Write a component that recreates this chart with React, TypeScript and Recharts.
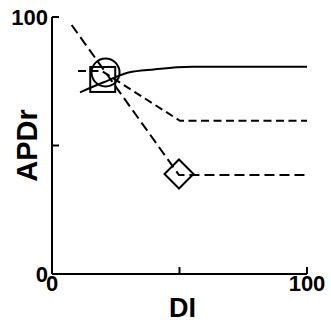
import React from 'react';
import { ComposedChart, Line, Scatter, XAxis, YAxis } from 'recharts';

// series (DI vs APDr)
const solidDI = [11, 20, 30, 40, 55, 100];
const solidAPDr = [70.7, 74.5, 78.4, 79.6, 80.6, 80.6];

const steepDI = [7.7, 49.8, 100];
const steepAPDr = [96.9, 38.5, 38.5];

const midDI = [10.2, 19.5, 50.2, 100];
const midAPDr = [79, 79, 59.6, 59.6];

const markerDI = [21, 19.9, 49.8];
const markerAPDr = [78.4, 75.7, 38.9];

const axisTicks = [0, 50, 100];
const labeledTicks = [0, 100];

const toPoints = (xs: number[], ys: number[]) => xs.map((x, i) => ({ x, y: ys[i] }));

const solidData = toPoints(solidDI, solidAPDr);
const steepData = toPoints(steepDI, steepAPDr);
const midData = toPoints(midDI, midAPDr);
const circleData = [{ x: markerDI[0], y: markerAPDr[0] }];
const squareData = [{ x: markerDI[1], y: markerAPDr[1] }];
const diamondData = [{ x: markerDI[2], y: markerAPDr[2] }];

const FONT = '"Liberation Sans", Arial, Helvetica, sans-serif';
const TICK_LEN = 7;

const BottomTick = ({ x, y, payload }: any) => (
  <g>
    <line x1={x} y1={y} x2={x} y2={y - TICK_LEN} stroke="#000" strokeWidth={2} />
    {labeledTicks.includes(payload.value) && (
      <text x={x} y={y + 17} textAnchor="middle" fontFamily={FONT} fontWeight="bold" fontSize={22} fill="#000">
        {payload.value}
      </text>
    )}
  </g>
);

const LeftTick = ({ x, y, payload }: any) => (
  <g>
    <line x1={x} y1={y} x2={x + TICK_LEN} y2={y} stroke="#000" strokeWidth={2} />
    {labeledTicks.includes(payload.value) && (
      <text x={x - 4} y={y + 8} textAnchor="end" fontFamily={FONT} fontWeight="bold" fontSize={22} fill="#000">
        {payload.value}
      </text>
    )}
  </g>
);

const TopTick = ({ x, y, payload }: any) =>
  payload.value === 50 ? <line x1={x} y1={y} x2={x} y2={y + TICK_LEN} stroke="#000" strokeWidth={2} /> : <g />;

const RightTick = ({ x, y, payload }: any) =>
  payload.value === 50 ? <line x1={x} y1={y} x2={x - TICK_LEN} y2={y} stroke="#000" strokeWidth={2} /> : <g />;

const CircleMark = ({ cx, cy }: any) => <circle cx={cx} cy={cy} r={14} fill="none" stroke="#000" strokeWidth={2} />;
const SquareMark = ({ cx, cy }: any) => (
  <rect x={cx - 12.5} y={cy - 12.5} width={25} height={25} fill="none" stroke="#000" strokeWidth={2} />
);
const DiamondMark = ({ cx, cy }: any) => (
  <polygon
    points={`${cx},${cy - 14.5} ${cx + 14.5},${cy} ${cx},${cy + 14.5} ${cx - 14.5},${cy}`}
    fill="none"
    stroke="#000"
    strokeWidth={2}
  />
);

const YLabel = ({ viewBox }: any) => {
  const cx = viewBox.x + 37;
  const cy = viewBox.y + viewBox.height / 2;
  return (
    <text x={cx} y={cy} transform={`rotate(-90, ${cx}, ${cy})`} textAnchor="middle" fontFamily={FONT} fontWeight="bold" fontSize={29} fill="#000">
      APDr
    </text>
  );
};

export default function App() {
  return (
    <div style={{ position: 'absolute', left: 0, top: 0, background: '#fff' }}>
      <ComposedChart width={331} height={324} margin={{ top: 17, right: 24, bottom: 0, left: 0 }}>
        <XAxis
          dataKey="x"
          type="number"
          domain={[0, 100]}
          ticks={axisTicks}
          tick={<BottomTick />}
          tickLine={false}
          tickSize={0}
          tickMargin={0}
          axisLine={{ stroke: '#000', strokeWidth: 2 }}
          height={50}
          label={{ value: 'DI', position: 'insideBottom', offset: 7, dx: 3, fontFamily: FONT, fontWeight: 'bold', fontSize: 27, fill: '#000' }}
        />
        <XAxis
          xAxisId="top"
          orientation="top"
          type="number"
          domain={[0, 100]}
          ticks={axisTicks}
          tick={<TopTick />}
          tickLine={false}
          tickSize={0}
          tickMargin={0}
          axisLine={{ stroke: '#000', strokeWidth: 2 }}
          height={0}
        />
        <YAxis
          type="number"
          domain={[0, 100]}
          ticks={axisTicks}
          tick={<LeftTick />}
          tickLine={false}
          tickSize={0}
          tickMargin={0}
          axisLine={{ stroke: '#000', strokeWidth: 2 }}
          width={52}
          label={<YLabel />}
        />
        <YAxis
          yAxisId="right"
          orientation="right"
          type="number"
          domain={[0, 100]}
          ticks={axisTicks}
          tick={<RightTick />}
          tickLine={false}
          tickSize={0}
          tickMargin={0}
          axisLine={{ stroke: '#000', strokeWidth: 2 }}
          width={0}
        />
        <Line data={solidData} dataKey="y" type="monotone" stroke="#000" strokeWidth={2} dot={false} isAnimationActive={false} />
        <Line data={steepData} dataKey="y" type="linear" stroke="#000" strokeWidth={2} strokeDasharray="10 5" dot={false} isAnimationActive={false} />
        <Line data={midData} dataKey="y" type="linear" stroke="#000" strokeWidth={2} strokeDasharray="8 4.5" dot={false} isAnimationActive={false} />
        <Scatter data={circleData} dataKey="y" shape={<CircleMark />} isAnimationActive={false} />
        <Scatter data={squareData} dataKey="y" shape={<SquareMark />} isAnimationActive={false} />
        <Scatter data={diamondData} dataKey="y" shape={<DiamondMark />} isAnimationActive={false} />
      </ComposedChart>
    </div>
  );
}
